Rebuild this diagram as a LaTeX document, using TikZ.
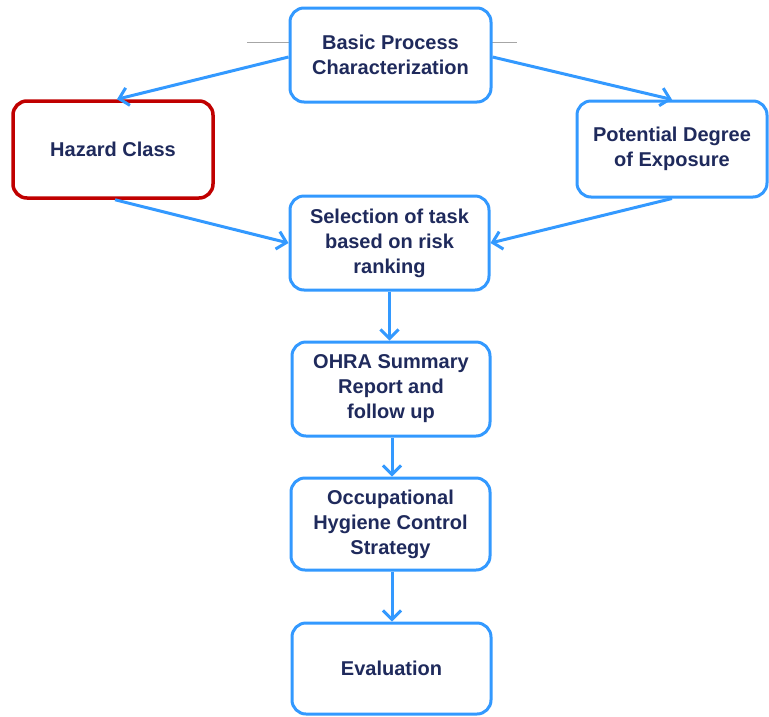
\documentclass[tikz,border=0pt]{standalone}
\usepackage{fontspec}
\setmainfont{Liberation Sans}
\usetikzlibrary{arrows.meta}
\definecolor{flowblue}{HTML}{3399FF}
\definecolor{flowred}{HTML}{C00000}
\definecolor{flowtext}{HTML}{1F2A5C}
\definecolor{rulegray}{HTML}{A6A6A6}
\tikzset{
  stepbox/.style={draw=flowblue, line width=3pt, rounded corners=14pt, fill=white,
    align=center, font=\fontsize{20}{25}\selectfont\bfseries, text=flowtext,
    inner sep=0pt},
  redbox/.style={stepbox, draw=flowred, line width=3.5pt},
  flow/.style={draw=flowblue, line width=3pt,
    -{Straight Barb[length=9pt, width=18pt, line width=3pt]}},
}
\begin{document}
\begin{tikzpicture}[x=1pt, y=-1pt]
\useasboundingbox (0,0) rectangle (769,716);
% thin gray rule behind the top box
\draw[rulegray, line width=1pt] (247,42) -- (517,42);
% boxes
\node[stepbox, minimum width=201pt, minimum height=94pt] (bpc) at (390.5,55) {Basic Process\\Characterization};
\node[redbox, minimum width=200pt, minimum height=97pt] (haz) at (113,149.5) {Hazard Class};
\node[stepbox, minimum width=190pt, minimum height=96pt] (pde) at (672,149) {Potential Degree\\of Exposure};
\node[stepbox, minimum width=199pt, minimum height=94pt] (sel) at (389.5,243) {Selection of task\\based on risk\\ranking};
\node[stepbox, minimum width=198pt, minimum height=94pt] (ohra) at (391,389) {OHRA Summary\\Report and\\follow up};
\node[stepbox, minimum width=199pt, minimum height=92pt] (ohc) at (390.5,524) {Occupational\\Hygiene Control\\Strategy};
\node[stepbox, minimum width=199pt, minimum height=91pt] (eval) at (391.5,668.5) {Evaluation};
% connectors
\draw[flow] (bpc.west |- 0,57) -- (haz.north -| 117,0);
\draw[flow] (bpc.east |- 0,57) -- (pde.north);
\draw[flow] (haz.south -| 115,0) -- (sel.west);
\draw[flow] (pde.south) -- (sel.east);
\draw[flow] (sel.south) -- (ohra.north -| sel.south);
\draw[flow] (ohra.south -| 392,0) -- (ohc.north -| 392,0);
\draw[flow] (ohc.south -| 392,0) -- (eval.north -| 392,0);
\end{tikzpicture}
\end{document}
